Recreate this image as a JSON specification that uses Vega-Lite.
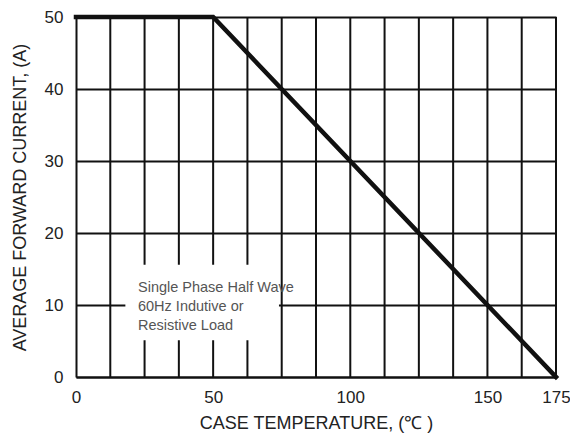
{
  "$schema": "https://vega.github.io/schema/vega-lite/v6.json",
  "autosize": "none",
  "width": 480,
  "height": 360,
  "padding": {"left": 76, "top": 17, "right": 14, "bottom": 62},
  "background": "white",
  "config": {
    "view": {"stroke": null},
    "font": "Liberation Sans",
    "axis": {
      "gridColor": "#111111",
      "gridWidth": 2,
      "gridOpacity": 1,
      "domainColor": "#111111",
      "domainWidth": 2,
      "ticks": false,
      "labelFont": "Liberation Sans",
      "labelFontSize": 17,
      "labelColor": "#222222",
      "titleFont": "Liberation Sans",
      "titleFontSize": 18,
      "titleFontWeight": "normal",
      "titleColor": "#222222"
    }
  },
  "datasets": {
    "vgrid": [
      {"t": 12.5}, {"t": 25}, {"t": 37.5}, {"t": 50}, {"t": 62.5}, {"t": 75}, {"t": 87.5},
      {"t": 100}, {"t": 112.5}, {"t": 125}, {"t": 137.5}, {"t": 150}, {"t": 162.5}, {"t": 175}
    ],
    "curve": [
      {"temp": 0, "current": 50},
      {"temp": 50, "current": 50},
      {"temp": 175, "current": 0}
    ],
    "box": [
      {"x1": 18, "x2": 74, "y1": 5.1, "y2": 15.6}
    ],
    "note": [
      {"x": 22.6, "y": 12.36, "text": "Single Phase Half Wave"},
      {"x": 22.6, "y": 9.72, "text": "60Hz Indutive or"},
      {"x": 22.6, "y": 7.08, "text": "Resistive Load"}
    ]
  },
  "layer": [
    {
      "data": {"name": "vgrid"},
      "mark": {"type": "rule", "color": "#111111", "strokeWidth": 2},
      "encoding": {
        "x": {"field": "t", "type": "quantitative",
          "scale": {"domain": [0, 175], "nice": false},
          "axis": {
            "title": "CASE TEMPERATURE, (℃ )",
            "grid": false,
            "values": [0, 50, 100, 150, 175],
            "labelPadding": 12,
            "titlePadding": 9,
            "labelFlush": false
          }}
      }
    },
    {
      "data": {"name": "box"},
      "mark": {"type": "rect", "fill": "white", "stroke": null},
      "encoding": {
        "x": {"field": "x1", "type": "quantitative"},
        "x2": {"field": "x2"},
        "y": {"field": "y1", "type": "quantitative",
          "scale": {"domain": [0, 50], "nice": false},
          "axis": {
            "title": "AVERAGE FORWARD  CURRENT, (A)",
            "grid": true,
            "values": [0, 10, 20, 30, 40, 50],
            "labelPadding": 13,
            "titlePadding": 15,
            "labelFlush": false
          }},
        "y2": {"field": "y2"}
      }
    },
    {
      "data": {"name": "note"},
      "mark": {"type": "text", "align": "left", "baseline": "middle", "fontSize": 14.5, "color": "#555555", "font": "Liberation Sans"},
      "encoding": {
        "x": {"field": "x", "type": "quantitative"},
        "y": {"field": "y", "type": "quantitative"},
        "text": {"field": "text"}
      }
    },
    {
      "data": {"name": "curve"},
      "mark": {"type": "line", "color": "#111111", "strokeWidth": 4.5, "strokeCap": "square"},
      "encoding": {
        "x": {"field": "temp", "type": "quantitative"},
        "y": {"field": "current", "type": "quantitative"}
      }
    }
  ]
}
